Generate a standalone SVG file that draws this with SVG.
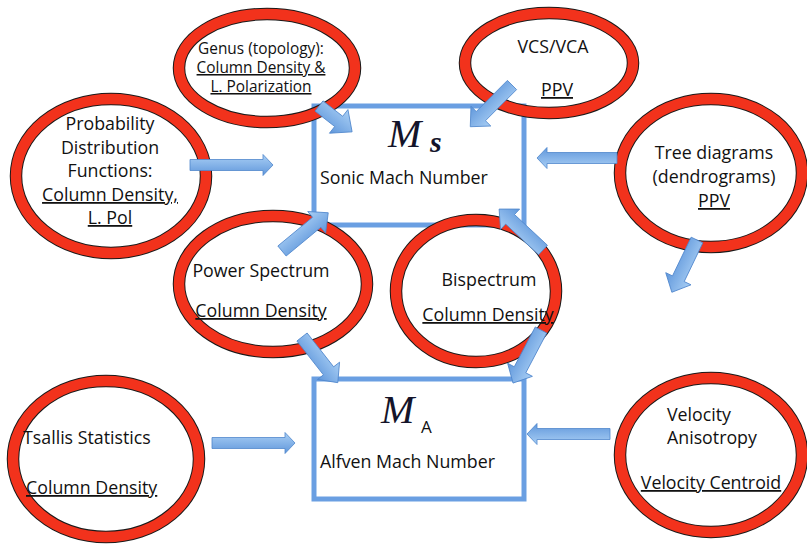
<svg xmlns="http://www.w3.org/2000/svg" width="807" height="544" viewBox="0 0 807 544">
<style>
  .box { fill: #ffffff; stroke: #6a9fe2; stroke-width: 5; }
  .ringO { fill: none; stroke: #1a1a1a; stroke-width: 12.5; }
  .ringI { fill: none; stroke: #f2321c; stroke-width: 10.5; }
  .arr { fill: url(#ag); stroke: #4f86cc; stroke-width: 0.8; }
  text { font-family: "Open Sans", "Liberation Sans", sans-serif; font-size: 17.8px; fill: #111; }
  .c { text-anchor: middle; }
  .u { text-decoration: underline; }
  text.g { font-size: 15.4px; }
  text.math { font-family: "Liberation Serif", "DejaVu Serif", serif; font-style: italic; fill: #14142a; }
  text.mM { font-size: 40px; }
  text.ms { font-size: 30px; font-weight: bold; }
  text.sub { font-size: 17px; }
</style>
<defs>
  <linearGradient id="ag" x1="0" y1="0" x2="0" y2="1">
    <stop offset="0" stop-color="#a9cff5"/>
    <stop offset="1" stop-color="#6097db"/>
  </linearGradient>
</defs>
<rect width="807" height="544" fill="#ffffff"/>

<g id="sonic">
  <rect class="box" x="314" y="106" width="210" height="119"/>
  <text class="math mM" x="388" y="147">M</text>
  <text class="math ms" x="430" y="152">s</text>
  <text x="320" y="184">Sonic Mach Number</text>
</g>
<g id="alfven">
  <rect class="box" x="314" y="379" width="210" height="120"/>
  <text class="math mM" x="381" y="423">M</text>
  <text class="sub" x="421" y="433">A</text>
  <text x="320" y="468">Alfven Mach Number</text>
</g>

<g id="genus">
  <ellipse class="ringO" cx="267" cy="68" rx="88" ry="54"/>
  <ellipse class="ringI" cx="267" cy="68" rx="88" ry="54"/>
</g>
<g id="vcs">
  <ellipse class="ringO" cx="549" cy="63" rx="84" ry="50"/>
  <ellipse class="ringI" cx="549" cy="63" rx="84" ry="50"/>
</g>
<g id="pdf">
  <ellipse class="ringO" cx="111" cy="176" rx="95" ry="77"/>
  <ellipse class="ringI" cx="111" cy="176" rx="95" ry="77"/>
</g>
<g id="tree">
  <ellipse class="ringO" cx="711" cy="173" rx="91" ry="74"/>
  <ellipse class="ringI" cx="711" cy="173" rx="91" ry="74"/>
</g>
<g id="power">
  <ellipse class="ringO" cx="273" cy="284" rx="94" ry="68"/>
  <ellipse class="ringI" cx="273" cy="284" rx="94" ry="68"/>
</g>
<g id="bispec">
  <ellipse class="ringO" cx="476" cy="291" rx="80" ry="71"/>
  <ellipse class="ringI" cx="476" cy="291" rx="80" ry="71"/>
</g>
<g id="tsallis">
  <ellipse class="ringO" cx="106" cy="459" rx="93" ry="78"/>
  <ellipse class="ringI" cx="106" cy="459" rx="93" ry="78"/>
</g>
<g id="velocity">
  <ellipse class="ringO" cx="711" cy="455" rx="91" ry="77"/>
  <ellipse class="ringI" cx="711" cy="455" rx="91" ry="77"/>
</g>

<g id="connectors">
  <polygon class="arr" transform="translate(190,165)" points="0,-5.5 73,-5.5 73,-10.5 83,0 73,10.5 73,5.5 0,5.5"/>
  <polygon class="arr" transform="translate(212,443)" points="0,-5.5 73,-5.5 73,-10.5 83,0 73,10.5 73,5.5 0,5.5"/>
  <polygon class="arr" transform="translate(610,434) rotate(180)" points="0,-5.5 73,-5.5 73,-10.5 83,0 73,10.5 73,5.5 0,5.5"/>
  <polygon class="arr" transform="translate(617,158) rotate(180)" points="0,-5.5 70,-5.5 70,-10.5 80,0 70,10.5 70,5.5 0,5.5"/>
  <polygon class="arr" transform="translate(697,240) rotate(115.7)" points="0,-6.5 43,-6.5 43,-14 58,0 43,14 43,6.5 0,6.5"/>
  <polygon class="arr" transform="translate(319,106) rotate(38)" points="0,-6.5 25,-6.5 25,-15 42,0 25,15 25,6.5 0,6.5"/>
  <polygon class="arr" transform="translate(512,85) rotate(135)" points="0,-6.5 44,-6.5 44,-14 59,0 44,14 44,6.5 0,6.5"/>
  <polygon class="arr" transform="translate(282,251) rotate(-39.6)" points="0,-6.5 45,-6.5 45,-14 60,0 45,14 45,6.5 0,6.5"/>
  <polygon class="arr" transform="translate(302,337) rotate(51.9)" points="0,-6.5 43,-6.5 43,-14 58,0 43,14 43,6.5 0,6.5"/>
  <polygon class="arr" transform="translate(543,250) rotate(-137)" points="0,-6.5 45,-6.5 45,-14 60,0 45,14 45,6.5 0,6.5"/>
  <polygon class="arr" transform="translate(541,330) rotate(117.8)" points="0,-6.5 45,-6.5 45,-14 60,0 45,14 45,6.5 0,6.5"/>
</g>

<g id="labels">
  <text class="c g" x="261" y="54">Genus (topology):</text>
  <text class="c u g" x="261" y="73">Column Density &amp;</text>
  <text class="c u g" x="261" y="92">L. Polarization</text>

  <text class="c" x="553" y="53">VCS/VCA</text>
  <text class="c u" x="557" y="96">PPV</text>

  <text class="c" x="110" y="130">Probability</text>
  <text class="c" x="110" y="154">Distribution</text>
  <text class="c" x="110" y="177">Functions:</text>
  <text class="c u" x="110" y="201">Column Density,</text>
  <text class="c u" x="110" y="224">L. Pol</text>

  <text class="c" x="714" y="159">Tree diagrams</text>
  <text class="c" x="714" y="183">(dendrograms)</text>
  <text class="c u" x="714" y="207">PPV</text>

  <text class="c" x="261" y="277">Power Spectrum</text>
  <text class="c u" x="261" y="317">Column Density</text>

  <text class="c" x="489" y="286">Bispectrum</text>
  <text class="c u" x="488" y="321">Column Density</text>

  <text x="23" y="444">Tsallis Statistics</text>
  <text class="u" x="26" y="494">Column Density</text>

  <text x="667" y="421">Velocity</text>
  <text x="667" y="444">Anisotropy</text>
  <text class="c u" x="711" y="489">Velocity Centroid</text>
</g>
</svg>
